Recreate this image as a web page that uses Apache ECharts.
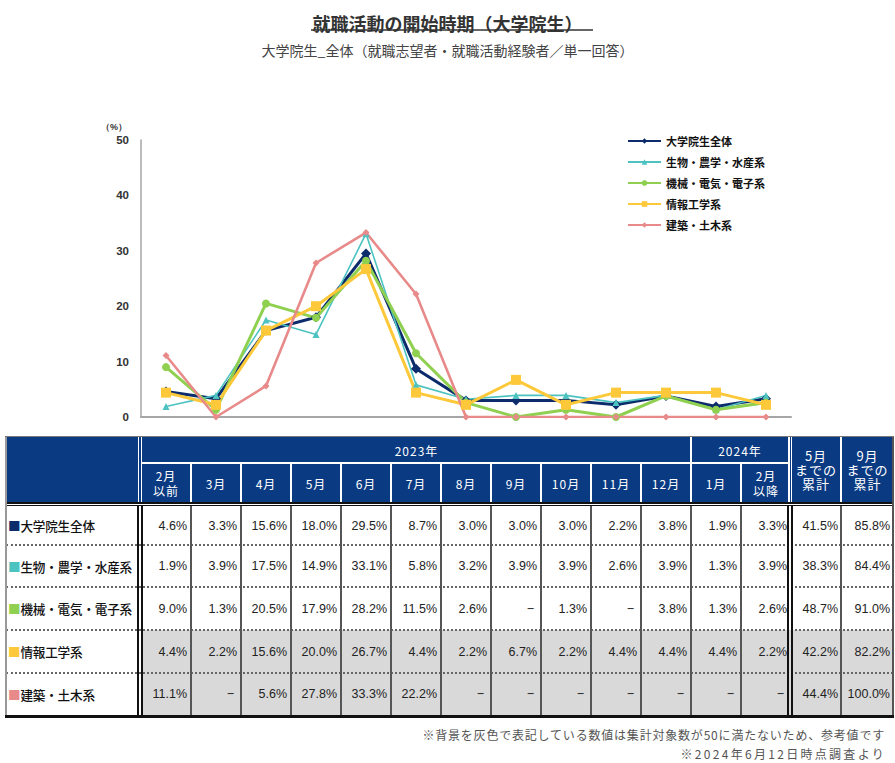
<!DOCTYPE html>
<html><head><meta charset="utf-8">
<script src="https://cdn.jsdelivr.net/npm/echarts@6/dist/echarts.min.js"></script>
<style>
html,body{margin:0;padding:0;background:#fff;}
#wrap{position:relative;width:895px;height:763px;overflow:hidden;font-family:"Noto Sans CJK JP",sans-serif;}
#chart{position:absolute;left:0;top:0;width:895px;height:435px;}
#tbl{position:absolute;left:0;top:0;width:895px;height:763px;}
.b{position:absolute;box-sizing:border-box;}
.t{position:absolute;box-sizing:border-box;display:flex;align-items:center;white-space:pre;}
.foot{position:absolute;right:10px;color:#555;font-size:12px;white-space:nowrap;}
</style></head>
<body><div id="wrap"><div id="chart"></div><div id="tbl"></div>
<div class="foot" style="top:726px;letter-spacing:0.8px;">※背景を灰色で表記している数値は集計対象数が50に満たないため、参考値です</div>
<div class="foot" style="top:745px;letter-spacing:2.3px;right:9px;">※2024年6月12日時点調査より</div>
</div>
<script>
// ---- data ----
const months = ['2月以前','3月','4月','5月','6月','7月','8月','9月','10月','11月','12月','1月','2月以降'];
const headMonths = ['2月\n以前','3月','4月','5月','6月','7月','8月','9月','10月','11月','12月','1月','2月\n以降'];
const yearLabels = ['2023年','2024年'];
const cumLabels = ['5月\nまでの\n累計','9月\nまでの\n累計'];
const seriesNames = ['大学院生全体','生物・農学・水産系','機械・電気・電子系','情報工学系','建築・土木系'];
const overall = [4.6,3.3,15.6,18.0,29.5,8.7,3.0,3.0,3.0,2.2,3.8,1.9,3.3];
const bio     = [1.9,3.9,17.5,14.9,33.1,5.8,3.2,3.9,3.9,2.6,3.9,1.3,3.9];
const mech    = [9.0,1.3,20.5,17.9,28.2,11.5,2.6,null,1.3,null,3.8,1.3,2.6];
const info    = [4.4,2.2,15.6,20.0,26.7,4.4,2.2,6.7,2.2,4.4,4.4,4.4,2.2];
const arch    = [11.1,null,5.6,27.8,33.3,22.2,null,null,null,null,null,null,null];
const cumMay  = [41.5,38.3,48.7,42.2,44.4];
const cumSep  = [85.8,84.4,91.0,82.2,100.0];
const grayRows = [false,false,false,true,true];
const yTicks = [0,10,20,30,40,50];

const colors = ['#0d2c6c','#4cc3c0','#8fd050','#fdc93a','#e88a8a'];
const symbols = ['diamond','triangle','circle','rect','diamond'];
const symSizes = [10,7,8,10,7];
const widths = [3,1.6,3,3,2.6];
const allData = [overall,bio,mech,info,arch];

// ---- chart ----
const chart = echarts.init(document.getElementById('chart'), null, {renderer:'svg'});
chart.setOption({
  animation:false,
  title:[
    {text:'就職活動の開始時期（大学院生）',left:'center',top:9,textStyle:{fontSize:18,fontWeight:'bold',color:'#333',fontFamily:'Noto Sans CJK JP'}},
    {text:'大学院生_全体（就職志望者・就職活動経験者／単一回答）',left:'center',top:38,textStyle:{fontSize:14,fontWeight:'normal',color:'#444',fontFamily:'Noto Sans CJK JP'}}
  ],
  graphic:[{type:'line',shape:{x1:311,y1:30,x2:593,y2:30},style:{stroke:'#333',lineWidth:1.5}}],
  legend:{orient:'vertical',left:622,top:129,itemWidth:33,itemHeight:7,itemGap:7,
    textStyle:{fontSize:11,color:'#111',fontWeight:'bold',lineHeight:14,fontFamily:'Noto Sans CJK JP'},data:seriesNames},
  grid:{left:141,top:140,width:650,bottom:18,containLabel:false},
  xAxis:{type:'category',data:months,boundaryGap:true,axisLabel:{show:false},axisTick:{show:false},
    axisLine:{lineStyle:{color:'#a6a6a6',width:2}},splitLine:{show:false}},
  yAxis:{type:'value',min:yTicks[0],max:yTicks[yTicks.length-1],interval:10,
    name:'（%）',nameLocation:'end',nameGap:9,nameTextStyle:{fontSize:9,color:'#333',align:'right',padding:[0,14,0,0],fontWeight:'bold'},
    axisLine:{show:true,lineStyle:{color:'#a6a6a6',width:1.5}},axisTick:{show:false},splitLine:{show:false},
    axisLabel:{fontSize:11.5,color:'#333',fontWeight:'bold',margin:12,fontFamily:'Liberation Sans'}},
  series: seriesNames.map((n,i)=>({
    name:n,type:'line',data:allData[i].map(v=>v===null?0:v),
    symbol:symbols[i],symbolSize:symSizes[i],
    lineStyle:{color:colors[i],width:widths[i]},itemStyle:{color:colors[i]}
  }))
});

// ---- table ----
const T = document.getElementById('tbl');
function box(x,y,w,h,css){const d=document.createElement('div');d.className='b';
  d.style.cssText=`left:${x}px;top:${y}px;width:${w}px;height:${h}px;`+(css||'');T.appendChild(d);return d;}
function txt(x,y,w,h,s,css){const d=document.createElement('div');d.className='t';
  d.style.cssText=`left:${x}px;top:${y}px;width:${w}px;height:${h}px;`+(css||'');d.textContent=s;T.appendChild(d);return d;}

const navy='#0a3a82';
const colX = i=>141+50*i; // month columns
const H0=437,H1=463,H2=502;
const rowY=[506,545,587,630,673,715];
// header bg
box(6,H0,887,H2-H0,`background:${navy};`);
box(5,H0-1,889,1,'background:#777;');
// header white lines
box(138,H0,1,H2-H0,'background:#fff;');
box(141,H0,1,H2-H0,'background:#fff;');
box(142,H1-1,647,2,'background:#fff;');
for(let i=1;i<13;i++){ if(i===11) box(colX(i)-1,H0,2,H2-H0,'background:#fff;'); else box(colX(i)-1,H1,2,H2-H1,'background:#fff;'); }
box(788,H0,2,H2-H0,'background:#fff;');
box(791,H0,1,H2-H0,'background:#fff;');
box(840,H0,2,H2-H0,'background:#fff;');
// header text
const hcss='color:#fff;font-size:12px;justify-content:center;text-align:center;line-height:15px;letter-spacing:1px;';
txt(142,H0,549,H1-H0,yearLabels[0],hcss);
txt(692,H0,96,H1-H0,yearLabels[1],hcss);
headMonths.forEach((m,i)=>txt(colX(i)+1,H1+1,48,H2-H1-1,m,hcss));
txt(792,H0,48,H2-H0,cumLabels[0],hcss+'line-height:14px;font-size:13px;');
txt(842,H0,51,H2-H0,cumLabels[1],hcss+'line-height:14px;font-size:13px;');
// double black line under header
box(5,H2,889,2,'background:#111;');
box(5,H2+3,889,1,'background:#111;');
// data rows
const fmt=v=>v===null?'−':v.toFixed(1)+'%';
const vcss='font-family:"Liberation Sans Narrow","Liberation Sans",sans-serif;font-size:12.5px;color:#222;justify-content:flex-end;padding-right:3px;';
seriesNames.forEach((n,r)=>{
  const y0=rowY[r], y1=rowY[r+1], h=y1-y0;
  if(grayRows[r]) box(142,y0,751,h,'background:#d9d9d9;');
  const lab=txt(8,y0,129,h,'',`font-size:12.6px;color:#111;font-weight:500;letter-spacing:-0.2px;`);
  lab.innerHTML=`<span style="color:${colors[r]};">■</span>${n}`;
  allData[r].forEach((v,i)=>{
    txt(colX(i)+1,y0,48,h,fmt(v),vcss+(v===null?'padding-right:6px;':''));
  });
  txt(792,y0,49,h,fmt(cumMay[r]),vcss);
  txt(842,y0,51,h,fmt(cumSep[r]),vcss);
  if(r>0) box(6,y0-1,887,2,'border-top:2px dotted #666;');
});
// vertical lines in data area
const DY0=H2+4, DY1=rowY[5];
for(let i=1;i<13;i++) box(colX(i)-1,DY0,2,DY1-DY0,'background:#555;');
box(840,DY0,2,DY1-DY0,'background:#555;');
box(137,DY0,2,DY1-DY0,'background:#111;');
box(141,DY0,2,DY1-DY0,'background:#111;');
box(787,DY0,2,DY1-DY0,'background:#111;');
box(791,DY0,2,DY1-DY0,'background:#111;');
box(892,H0,2,DY1-H0,'background:#555;');
box(5,H0,2,DY1-H0+2,'background:#999;');
box(5,DY1,889,3,'background:#111;');
</script></body></html>
